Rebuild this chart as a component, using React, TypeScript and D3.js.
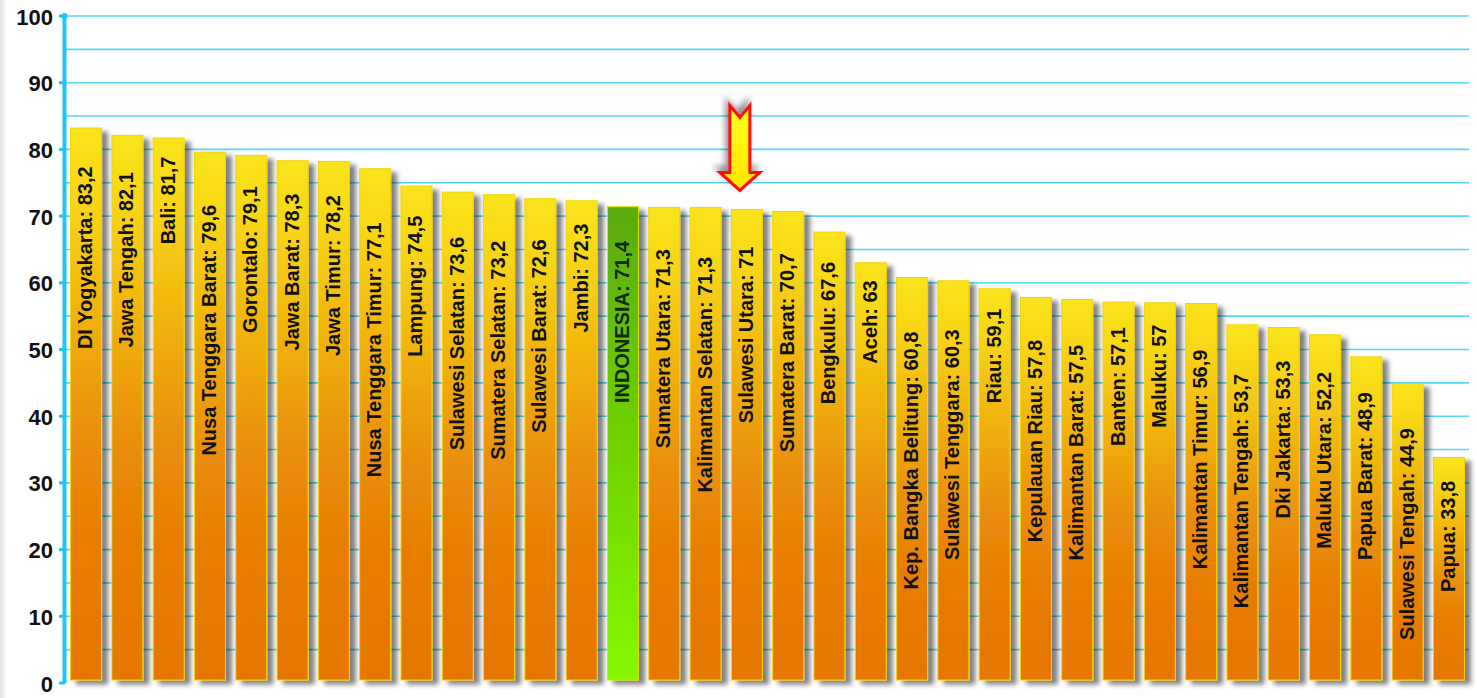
import React, { useEffect, useRef } from "react";
import * as d3 from "d3";

const categories = [
  "DI Yogyakarta", "Jawa Tengah", "Bali", "Nusa Tenggara Barat", "Gorontalo",
  "Jawa Barat", "Jawa Timur", "Nusa Tenggara Timur", "Lampung", "Sulawesi Selatan",
  "Sumatera Selatan", "Sulawesi Barat", "Jambi", "INDONESIA", "Sumatera Utara",
  "Kalimantan Selatan", "Sulawesi Utara", "Sumatera Barat", "Bengkulu", "Aceh",
  "Kep. Bangka Belitung", "Sulawesi Tenggara", "Riau", "Kepulauan Riau", "Kalimantan Barat",
  "Banten", "Maluku", "Kalimantan Timur", "Kalimantan Tengah", "Dki Jakarta",
  "Maluku Utara", "Papua Barat", "Sulawesi Tengah", "Papua",
];
const values = [
  83.2, 82.1, 81.7, 79.6, 79.1,
  78.3, 78.2, 77.1, 74.5, 73.6,
  73.2, 72.6, 72.3, 71.4, 71.3,
  71.3, 71, 70.7, 67.6, 63,
  60.8, 60.3, 59.1, 57.8, 57.5,
  57.1, 57, 56.9, 53.7, 53.3,
  52.2, 48.9, 44.9, 33.8,
];
const yTicks = [0, 10, 20, 30, 40, 50, 60, 70, 80, 90, 100];
const gridValues = [5, 10, 15, 20, 25, 30, 35, 40, 45, 50, 55, 60, 65, 70, 75, 80, 85, 90, 95, 100];
const highlighted = "INDONESIA";
const marked = "Sulawesi Utara";

const W = 1477;
const H = 698;
const FONT = "'Liberation Sans', Arial, Helvetica, sans-serif";

export default function App() {
  const ref = useRef<SVGSVGElement>(null);

  useEffect(() => {
    const svg = d3.select(ref.current);
    svg.selectAll("*").remove();
    const data = categories.map((c, i) => ({ c, v: values[i] }));

    const x = d3.scaleBand<string>().domain(categories).range([65, 1470]).paddingInner(0.25).paddingOuter(0.135);
    const y = d3.scaleLinear().domain([0, 100]).range([683, 16]);

    const defs = svg.append("defs");
    const og = defs.append("linearGradient").attr("id", "orangeGrad").attr("x1", 0).attr("y1", 0).attr("x2", 0).attr("y2", 1);
    [[0, "#fae41c"], [0.12, "#f8d615"], [0.35, "#f0b00f"], [0.55, "#ea8f09"], [0.75, "#e77c04"], [1, "#e67600"]].forEach(([o, c]) =>
      og.append("stop").attr("offset", o as number).attr("stop-color", c as string));
    const gg = defs.append("linearGradient").attr("id", "greenGrad").attr("x1", 0).attr("y1", 0).attr("x2", 0).attr("y2", 1);
    [[0, "#5aab09"], [0.5, "#70d205"], [1, "#86f800"]].forEach(([o, c]) =>
      gg.append("stop").attr("offset", o as number).attr("stop-color", c as string));
    const lg = defs.append("linearGradient").attr("id", "leftGrad").attr("x1", 0).attr("y1", 0).attr("x2", 1).attr("y2", 0);
    lg.append("stop").attr("offset", 0).attr("stop-color", "#e4e4e4");
    lg.append("stop").attr("offset", 1).attr("stop-color", "#ffffff");
    const ag = defs.append("linearGradient").attr("id", "arrowGrad").attr("x1", 0).attr("y1", 0).attr("x2", 0).attr("y2", 1);
    ag.append("stop").attr("offset", 0).attr("stop-color", "#ffff20");
    ag.append("stop").attr("offset", 1).attr("stop-color", "#ffe600");

    const f = defs.append("filter").attr("id", "barShadow").attr("x", "-20%").attr("y", "-5%").attr("width", "160%").attr("height", "115%");
    f.append("feGaussianBlur").attr("in", "SourceAlpha").attr("stdDeviation", 2.5).attr("result", "b");
    f.append("feOffset").attr("in", "b").attr("dx", 6).attr("dy", 4).attr("result", "o");
    f.append("feComponentTransfer").attr("in", "o").attr("result", "s").append("feFuncA").attr("type", "linear").attr("slope", 0.5);
    const fm = f.append("feMerge");
    fm.append("feMergeNode").attr("in", "s");
    fm.append("feMergeNode").attr("in", "SourceGraphic");

    const fa = defs.append("filter").attr("id", "arrowShadow").attr("x", "-50%").attr("y", "-50%").attr("width", "200%").attr("height", "200%");
    fa.append("feGaussianBlur").attr("in", "SourceAlpha").attr("stdDeviation", 3).attr("result", "b");
    fa.append("feOffset").attr("in", "b").attr("dx", -3).attr("dy", -5).attr("result", "o");
    fa.append("feComponentTransfer").attr("in", "o").attr("result", "s").append("feFuncA").attr("type", "linear").attr("slope", 0.45);
    const fam = fa.append("feMerge");
    fam.append("feMergeNode").attr("in", "s");
    fam.append("feMergeNode").attr("in", "SourceGraphic");

    const fx = defs.append("filter").attr("id", "axisShadow").attr("x", "-5%").attr("y", "-200%").attr("width", "110%").attr("height", "600%");
    fx.append("feGaussianBlur").attr("in", "SourceAlpha").attr("stdDeviation", 1.5).attr("result", "b");
    fx.append("feOffset").attr("in", "b").attr("dx", 2).attr("dy", 3).attr("result", "o");
    fx.append("feComponentTransfer").attr("in", "o").attr("result", "s").append("feFuncA").attr("type", "linear").attr("slope", 0.35);
    const fxm = fx.append("feMerge");
    fxm.append("feMergeNode").attr("in", "s");
    fxm.append("feMergeNode").attr("in", "SourceGraphic");

    svg.append("rect").attr("x", 0).attr("y", 0).attr("width", W).attr("height", H).attr("fill", "#fff");
    svg.append("rect").attr("x", 0).attr("y", 0).attr("width", 7).attr("height", H).attr("fill", "url(#leftGrad)");

    // gridlines
    svg.append("g").selectAll("line").data(gridValues).join("line")
      .attr("x1", 65).attr("x2", 1469)
      .attr("y1", (d) => y(d)).attr("y2", (d) => y(d))
      .attr("stroke", "#58d5f6").attr("stroke-width", 1.6);

    // bars
    const base = y(0) - 3;
    svg.append("g").selectAll("rect").data(data).join("rect")
      .attr("x", (d) => x(d.c)!)
      .attr("y", (d) => y(d.v))
      .attr("width", x.bandwidth())
      .attr("height", (d) => base - y(d.v))
      .attr("fill", (d) => (d.c === highlighted ? "url(#greenGrad)" : "url(#orangeGrad)"))
      .attr("stroke", (d) => (d.c === highlighted ? "#d8e000" : "#f2d400"))
      .attr("stroke-width", 1)
      .attr("filter", "url(#barShadow)");

    // x axis
    svg.append("line").attr("x1", 62).attr("x2", 1470).attr("y1", y(0)).attr("y2", y(0))
      .attr("stroke", "#4fd2f6").attr("stroke-width", 2.5).attr("filter", "url(#axisShadow)");

    // y axis
    svg.append("line").attr("x1", 64.5).attr("x2", 64.5).attr("y1", y(100)).attr("y2", y(0))
      .attr("stroke", "#1cc7f6").attr("stroke-width", 4);
    svg.append("g").selectAll("line").data(yTicks).join("line")
      .attr("x1", 59).attr("x2", 65).attr("y1", (d) => y(d)).attr("y2", (d) => y(d))
      .attr("stroke", "#1cc7f6").attr("stroke-width", 3);
    svg.append("circle").attr("cx", 64.5).attr("cy", y(100)).attr("r", 3).attr("fill", "#1cc7f6");

    svg.append("g").selectAll("text").data(yTicks).join("text")
      .attr("x", 53).attr("y", (d) => y(d) + 1)
      .attr("text-anchor", "end").attr("dominant-baseline", "central")
      .attr("font-family", FONT).attr("font-weight", "bold").attr("font-size", 22)
      .attr("fill", "#111").text((d) => String(d));

    // bar labels
    svg.append("g").selectAll("text").data(data).join("text")
      .attr("font-family", FONT).attr("font-weight", "bold").attr("font-size", 20)
      .attr("fill", (d) => (d.c === highlighted ? "#0d2a00" : "#111"))
      .attr("text-anchor", "end")
      .text((d) => `${d.c}: ${String(d.v).replace(".", ",")}`)
      .each(function (d) {
        const el = this as SVGTextElement;
        const L = el.getComputedTextLength();
        const cx = x(d.c)! + x.bandwidth() / 2;
        const yEnd = y(d.v) + 0.21 * L;
        d3.select(el).attr("transform", `translate(${cx + 6},${yEnd}) rotate(-90)`);
      });

    // arrow marker
    const md = data.find((d) => d.c === marked)!;
    const acx = x(md.c)! + x.bandwidth() / 2 - 7;
    const tip = y(md.v) - 19;
    const shaftBottom = tip - 18;
    const top = tip - 85;
    const pts: [number, number][] = [
      [acx - 10, top], [acx, top + 12], [acx + 10, top], [acx + 10, shaftBottom],
      [acx + 20, shaftBottom], [acx, tip], [acx - 20, shaftBottom], [acx - 10, shaftBottom],
    ];
    svg.append("path")
      .attr("d", d3.line()(pts)! + "Z")
      .attr("fill", "url(#arrowGrad)").attr("stroke", "#ff1010").attr("stroke-width", 3)
      .attr("stroke-linejoin", "miter").attr("filter", "url(#arrowShadow)");
  }, []);

  return (
    <svg ref={ref} width={W} height={H} style={{ position: "absolute", left: 0, top: 0, display: "block" }} />
  );
}
